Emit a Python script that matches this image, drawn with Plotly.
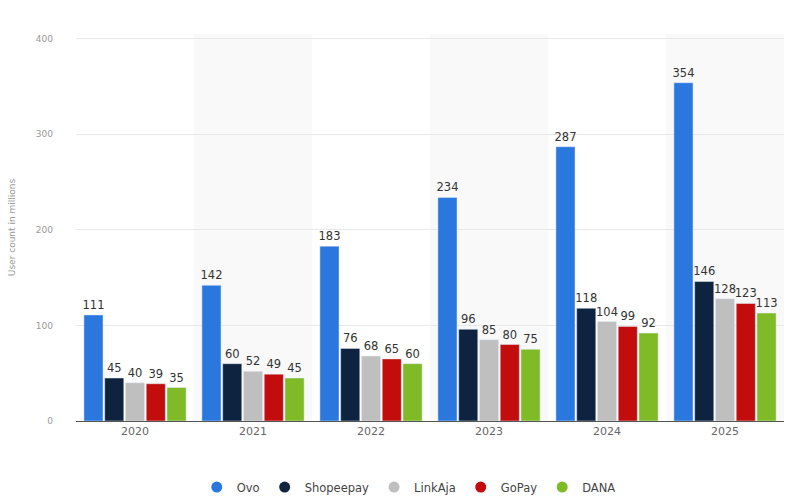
import plotly.graph_objects as go

years = ["2020", "2021", "2022", "2023", "2024", "2025"]
ovo = [111, 142, 183, 234, 287, 354]
shopeepay = [45, 60, 76, 96, 118, 146]
linkaja = [40, 52, 68, 85, 104, 128]
gopay = [39, 49, 65, 80, 99, 123]
dana = [35, 45, 60, 75, 92, 113]

series = [
    ("Ovo", ovo, "#2a78de"),
    ("Shopeepay", shopeepay, "#0d233f"),
    ("LinkAja", linkaja, "#bfbfbf"),
    ("GoPay", gopay, "#c30d0d"),
    ("DANA", dana, "#7fbb27"),
]

fig = go.Figure()
for name, vals, col in series:
    fig.add_trace(go.Bar(
        x=years, y=vals, name=name, marker_color=col,
        text=[str(v) for v in vals], textposition="outside", textangle=0,
        constraintext="none",
        textfont=dict(size=11.5, color="#333333", family="DejaVu Sans"),
        cliponaxis=False, showlegend=False, legendgroup=name,
    ))
# legend entries with round markers
for name, vals, col in series:
    fig.add_trace(go.Scatter(
        x=[None], y=[None], mode="markers", name=name, legendgroup=name,
        marker=dict(symbol="circle", size=11, color=col), showlegend=True,
    ))

shapes = []
for i in range(len(years)):
    if i % 2 == 1:
        shapes.append(dict(type="rect", xref="x", yref="paper", x0=i - 0.5, x1=i + 0.5,
                           y0=0, y1=1, fillcolor="#f9f9f9", line_width=0, layer="below"))

fig.update_layout(
    width=796, height=496,
    margin=dict(l=76, r=12, t=34, b=75),
    paper_bgcolor="white", plot_bgcolor="white",
    barmode="group", bargap=0.12, bargroupgap=0.08,
    shapes=shapes,
    font=dict(family="DejaVu Sans", color="#666666"),
    showlegend=True,
    legend=dict(orientation="h", x=0.47, xanchor="center", xref="paper",
                y=0.018, yanchor="middle", yref="container",
                font=dict(size=11.5, color="#444444"), itemwidth=30, tracegroupgap=0),
    yaxis=dict(range=[0, 405], tickvals=[0, 100, 200, 300, 400], showgrid=True,
               gridcolor="#e8e8e8", gridwidth=1, zeroline=False,
               tickfont=dict(size=9, color="#999999"), ticklabelstandoff=22,
               title=dict(text="User count in millions", font=dict(size=9, color="#999999"), standoff=18)),
    xaxis=dict(showline=True, linecolor="#555555", linewidth=1,
               tickfont=dict(size=11, color="#666666"), ticks=""),
)
fig.write_html("out.html")
